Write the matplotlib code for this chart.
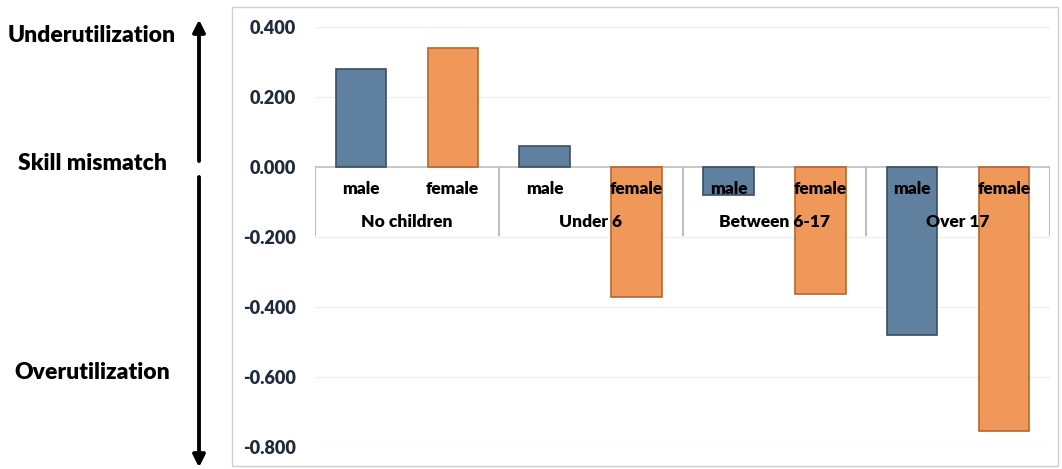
import matplotlib
matplotlib.use("Agg")
import matplotlib.pyplot as plt
from matplotlib.patches import Rectangle

plt.rcParams["font.family"] = ["Lato", "DejaVu Sans"]

# data
groups = ["No children", "Under 6", "Between 6-17", "Over 17"]
sexes = ["male", "female"]
male_vals = [0.281, 0.060, -0.080, -0.480]
female_vals = [0.340, -0.371, -0.363, -0.754]
y_ticks = [0.4, 0.2, 0.0, -0.2, -0.4, -0.6, -0.8]

BLUE, BLUE_EDGE = "#60809F", "#3B4E63"
ORANGE, ORANGE_EDGE = "#F0985A", "#B8652E"
AXIS_GREY = "#BFBFBF"

W, H = 1062, 469
fig = plt.figure(figsize=(W / 100, H / 100), dpi=100)

# chart area border
fig.add_artist(Rectangle((232 / W, 1 - 466 / H), (1058 - 232) / W, (466 - 7) / H,
                         transform=fig.transFigure, fill=False,
                         edgecolor="#D0D0D0", lw=1))

ax = fig.add_axes([315 / W, 1 - 447 / H, (1050 - 315) / W, (447 - 27) / H])

n = len(groups)
xm = [2 * i for i in range(n)]
xf = [2 * i + 1 for i in range(n)]
bw = 0.55
ax.bar(xm, male_vals, width=bw, color=BLUE, edgecolor=BLUE_EDGE, lw=1.2, zorder=3)
ax.bar(xf, female_vals, width=bw, color=ORANGE, edgecolor=ORANGE_EDGE, lw=1.2, zorder=3)

ax.set_xlim(-0.5, 2 * n - 0.5)
ax.set_ylim(-0.8, 0.4)
ax.set_yticks(y_ticks)
ax.set_yticklabels([f"{v:.3f}" for v in y_ticks], fontsize=13,
                   fontweight="heavy", color="#1F2A3A")
ax.tick_params(axis="y", length=0, pad=14)
ax.set_xticks([])
for s in ax.spines.values():
    s.set_visible(False)
for v in y_ticks:
    if v != 0:
        ax.axhline(v, color="#EFEFEF", lw=1, zorder=0)

# multi-level category axis below zero line
ax.axhline(0, color=AXIS_GREY, lw=1.2, zorder=2)
for b in range(n + 1):
    ax.plot([2 * b - 0.5, 2 * b - 0.5], [0, -0.195], color=AXIS_GREY, lw=1.5, zorder=2)
for i, g in enumerate(groups):
    ax.text(xm[i], -0.063, sexes[0], ha="center", va="center", fontsize=12.5,
            fontweight="heavy", zorder=5)
    ax.text(xf[i], -0.063, sexes[1], ha="center", va="center", fontsize=12.5,
            fontweight="heavy", zorder=5)
    ax.text(2 * i + 0.5, -0.158, g, ha="center", va="center", fontsize=12.5,
            fontweight="heavy", zorder=5)

# left-hand annotations
for label, ypx in [("Underutilization", 35), ("Skill mismatch", 163),
                   ("Overutilization", 372)]:
    fig.text(92 / W, 1 - ypx / H, label, ha="center", va="center",
             fontsize=16.5, fontweight="heavy")

arrow = dict(arrowstyle="-|>", lw=2.5, color="black", mutation_scale=18,
             shrinkA=0, shrinkB=0)
fig.add_artist(plt.annotate("", xy=(199 / W, 1 - 20 / H), xytext=(199 / W, 1 - 161 / H),
                            xycoords="figure fraction", textcoords="figure fraction",
                            arrowprops=arrow))
fig.add_artist(plt.annotate("", xy=(199 / W, 1 - 467 / H), xytext=(199 / W, 1 - 177 / H),
                            xycoords="figure fraction", textcoords="figure fraction",
                            arrowprops=arrow))

fig.savefig("out.png", dpi=100)
